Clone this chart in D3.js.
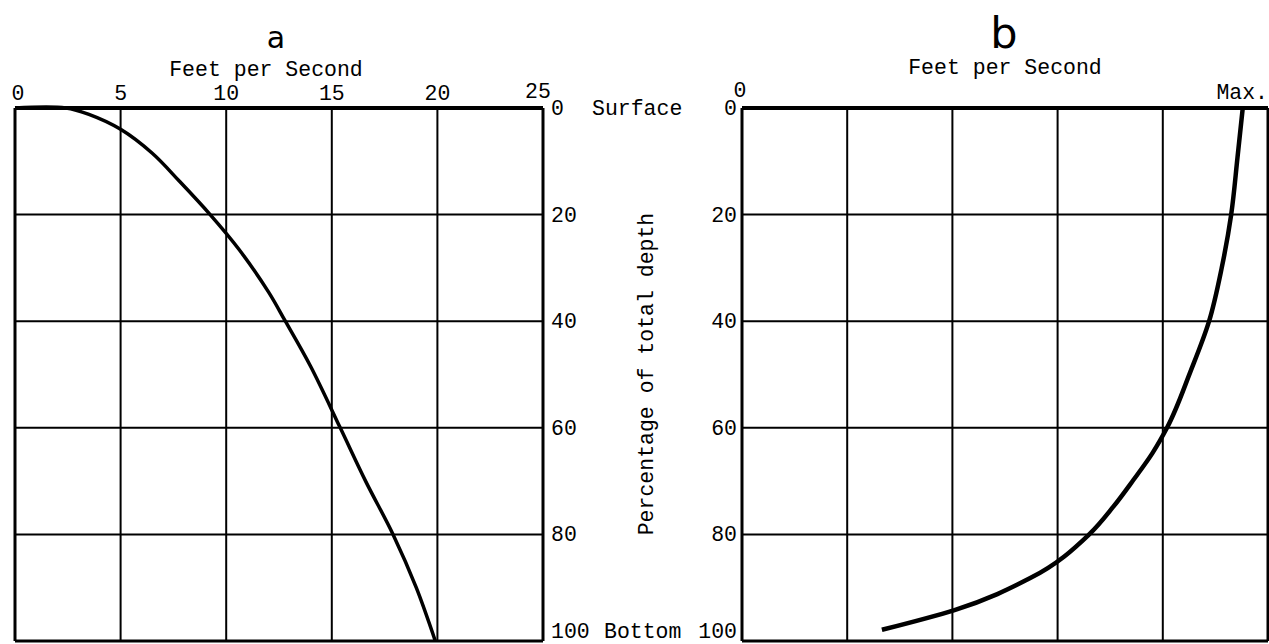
<!DOCTYPE html>
<html><head><meta charset="utf-8">
<script src="https://cdn.jsdelivr.net/npm/d3@7"></script>
<style>html,body{margin:0;padding:0;background:#fff;overflow:hidden}</style>
</head><body>
<svg id="c" width="1269" height="644"></svg>
<script>
// ---- data ----
const velocityA = [0, 2.4, 3.5, 5, 6.5, 7.8, 9.24, 10.6, 12.0, 12.8, 14.0, 15.4, 16.6, 17.9, 19.0, 19.9];
const depthA    = [0, 0, 1.2, 4, 8.5, 13.8, 20, 26.5, 34.5, 40, 48.5, 60, 70, 80, 90, 100];
const velocityB = [4.76, 4.71, 4.65, 4.56, 4.44, 4.26, 4.04, 3.90, 3.72, 3.53, 3.30, 2.74, 2.02, 1.33];
const depthB    = [0, 9.3, 20, 30, 40, 49.6, 60, 64.8, 69.8, 74.8, 80, 88.2, 94.2, 97.9];
const xTicksA = [0, 5, 10, 15, 20, 25];
const xTicksB = [0, 1, 2, 3, 4, 5];
const xTickLabelsB = ["0", "", "", "", "", "Max."];
const depthTicks = [0, 20, 40, 60, 80, 100];
const titles = ["a", "b"];
const xTitle = "Feet per Second";
const yTitle = "Percentage of total depth";
const depthEndLabel = "Surface";
const depthBottomLabel = "Bottom";

const svg = d3.select("#c");
const mono = "'Liberation Mono','DejaVu Sans Mono',monospace";
const FS = 21.5;
const y = d3.scaleLinear().domain([0, 100]).range([108, 641]);
const xA = d3.scaleLinear().domain([0, 25]).range([15, 543]);
const xB = d3.scaleLinear().domain([0, 5]).range([742, 1268]);

function grid(x, xt) {
  const g = svg.append("g");
  g.selectAll(".v").data(xt).enter().append("line")
    .attr("x1", d => x(d)).attr("x2", d => x(d))
    .attr("y1", y(0)).attr("y2", y(100))
    .attr("stroke", "#000").attr("stroke-width", (d, i) => (i === 0 || i === xt.length - 1) ? 3 : 2);
  g.selectAll(".h").data(depthTicks).enter().append("line")
    .attr("x1", x(xt[0])).attr("x2", x(xt[xt.length - 1]))
    .attr("y1", d => y(d)).attr("y2", d => y(d))
    .attr("stroke", "#000").attr("stroke-width", (d, i) => i === 0 ? 4 : (i === depthTicks.length - 1 ? 3 : 2));
}
grid(xA, xTicksA);
grid(xB, xTicksB);

const lineA = d3.line().x(d => xA(d[0])).y(d => y(d[1])).curve(d3.curveCatmullRom.alpha(0.5));
const lineB = d3.line().x(d => xB(d[0])).y(d => y(d[1])).curve(d3.curveMonotoneY);
svg.append("path").datum(velocityA.map((v, i) => [v, depthA[i]]))
  .attr("d", lineA).attr("fill", "none").attr("stroke", "#000").attr("stroke-width", 3.5);
svg.append("path").datum(velocityB.map((v, i) => [v, depthB[i]]))
  .attr("d", lineB).attr("fill", "none").attr("stroke", "#000").attr("stroke-width", 4.5);

// titles
svg.append("text").attr("x", 276).attr("y", 48).attr("text-anchor", "middle")
  .attr("font-family", "'DejaVu Sans',sans-serif").attr("font-size", 30).text(titles[0]);
svg.append("text").attr("x", 1004).attr("y", 48).attr("text-anchor", "middle")
  .attr("font-family", "'DejaVu Sans',sans-serif").attr("font-size", 43).text(titles[1]);
svg.append("text").attr("x", 266).attr("y", 76).attr("text-anchor", "middle")
  .attr("font-family", mono).attr("font-size", FS).text(xTitle);
svg.append("text").attr("x", 1005).attr("y", 74).attr("text-anchor", "middle")
  .attr("font-family", mono).attr("font-size", FS).text(xTitle);

// top tick labels a
svg.append("g").selectAll("text").data(xTicksA).enter().append("text")
  .attr("x", (d, i) => xA(d) + (i === 0 ? 3 : (i === xTicksA.length - 1 ? -5 : 0)))
  .attr("y", (d, i) => i === xTicksA.length - 1 ? 98 : 100)
  .attr("text-anchor", "middle").attr("font-family", mono).attr("font-size", FS).text(d => d);

// top tick labels b
svg.append("text").attr("x", xB(0) - 2).attr("y", 97).attr("text-anchor", "middle")
  .attr("font-family", mono).attr("font-size", FS).text(xTickLabelsB[0]);
svg.append("text").attr("x", 1268).attr("y", 99).attr("text-anchor", "end")
  .attr("font-family", mono).attr("font-size", FS).text(xTickLabelsB[5]);

// right axis labels a
svg.append("g").selectAll("text").data(depthTicks).enter().append("text")
  .attr("x", 551).attr("y", (d, i) => y(d) + (i === depthTicks.length - 1 ? -3 : 7))
  .attr("font-family", mono).attr("font-size", FS).text(d => d);
svg.append("text").attr("x", 592).attr("y", y(0) + 7)
  .attr("font-family", mono).attr("font-size", FS).text(depthEndLabel);
svg.append("text").attr("x", 604).attr("y", y(100) - 3)
  .attr("font-family", mono).attr("font-size", FS).text(depthBottomLabel);

// left axis labels b
svg.append("g").selectAll("text").data(depthTicks).enter().append("text")
  .attr("x", 737).attr("y", (d, i) => y(d) + (i === depthTicks.length - 1 ? -3 : 7)).attr("text-anchor", "end")
  .attr("font-family", mono).attr("font-size", FS).text(d => d);

// y title
svg.append("text").attr("transform", "translate(653,374) rotate(-90)")
  .attr("text-anchor", "middle").attr("font-family", mono).attr("font-size", FS).text(yTitle);
</script>
</body></html>
